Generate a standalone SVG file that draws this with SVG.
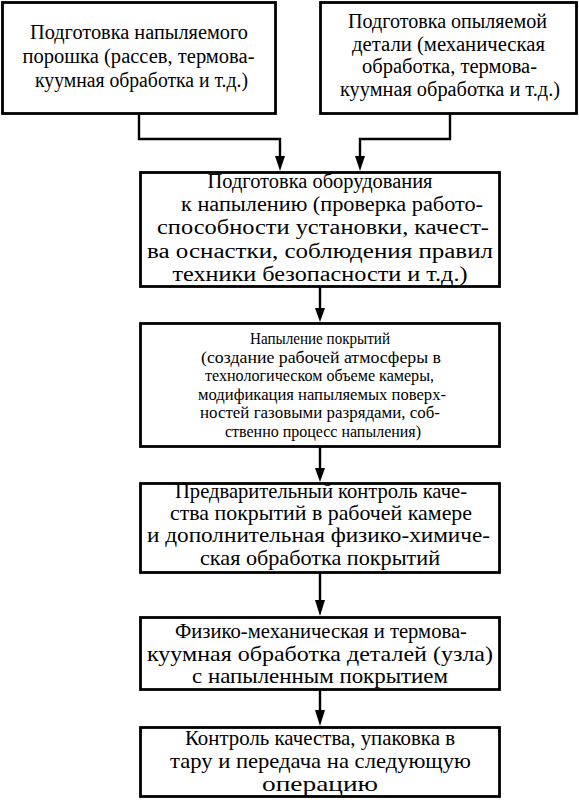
<svg xmlns="http://www.w3.org/2000/svg" width="579" height="804" viewBox="0 0 579 804">
<style>
.box{fill:#fff;stroke:#000;stroke-width:2.8}
text{font-family:"Liberation Serif","Times New Roman",serif;fill:#000;text-anchor:middle}
.t{font-size:20px}
.b{font-size:21px}
.s{font-size:16px}
.c{fill:none;stroke:#000;stroke-width:2.4}
</style>
<g id="connectors">
<path class="c" d="M139,114 V139 H280 V158"/>
<path d="M275,156 L285,156 L280,171 Z"/>
<path class="c" d="M450,114 V139 H360 V158"/>
<path d="M355,156 L365,156 L360,171 Z"/>
<path class="c" d="M320,287 V310"/>
<path d="M315,308 L325,308 L320,322 Z"/>
<path class="c" d="M320,447 V470"/>
<path d="M315,468 L325,468 L320,482 Z"/>
<path class="c" d="M320,573 V602"/>
<path d="M315,600 L325,600 L320,616 Z"/>
<path class="c" d="M320,690 V712"/>
<path d="M315,710 L325,710 L320,726 Z"/>
</g>
<g id="n1">
<rect class="box" x="2.5" y="2.5" width="273" height="111"/>
<text class="t" x="139" y="39" textLength="218" lengthAdjust="spacingAndGlyphs">Подготовка напыляемого</text>
<text class="t" x="138.5" y="63" textLength="232" lengthAdjust="spacingAndGlyphs">порошка (рассев, термова-</text>
<text class="t" x="141.5" y="87" textLength="213" lengthAdjust="spacingAndGlyphs">куумная обработка и т.д.)</text>
</g>
<g id="n2">
<rect class="box" x="320.5" y="2.5" width="256" height="111"/>
<text class="t" x="447.5" y="28" textLength="199" lengthAdjust="spacingAndGlyphs">Подготовка опыляемой</text>
<text class="t" x="448.5" y="51" textLength="193" lengthAdjust="spacingAndGlyphs">детали (механическая</text>
<text class="t" x="449.5" y="73" textLength="175" lengthAdjust="spacingAndGlyphs">обработка, термова-</text>
<text class="t" x="450" y="96" textLength="220" lengthAdjust="spacingAndGlyphs">куумная обработка и т.д.)</text>
</g>
<g id="n3">
<rect class="box" x="140.5" y="172.5" width="359" height="114"/>
<text class="t" x="320" y="188" textLength="225" lengthAdjust="spacingAndGlyphs">Подготовка оборудования</text>
<text class="t" x="332" y="211" textLength="302" lengthAdjust="spacingAndGlyphs">к напылению (проверка работо-</text>
<text class="t" x="323" y="234" textLength="332" lengthAdjust="spacingAndGlyphs">способности установки, качест-</text>
<text class="t" x="320" y="258" textLength="346" lengthAdjust="spacingAndGlyphs">ва оснастки, соблюдения правил</text>
<text class="t" x="320" y="281" textLength="295" lengthAdjust="spacingAndGlyphs">техники безопасности и т.д.)</text>
</g>
<g id="n4">
<rect class="box" x="140.5" y="323.5" width="359" height="123"/>
<text class="s" x="320" y="344" textLength="140" lengthAdjust="spacingAndGlyphs">Напыление покрытий</text>
<text class="s" x="321" y="363" textLength="240" lengthAdjust="spacingAndGlyphs">(создание рабочей атмосферы в</text>
<text class="s" x="319.5" y="381" textLength="229" lengthAdjust="spacingAndGlyphs">технологическом объеме камеры,</text>
<text class="s" x="322" y="400" textLength="248" lengthAdjust="spacingAndGlyphs">модификация напыляемых поверх-</text>
<text class="s" x="320" y="418" textLength="240" lengthAdjust="spacingAndGlyphs">ностей газовыми разрядами, соб-</text>
<text class="s" x="323" y="437" textLength="196" lengthAdjust="spacingAndGlyphs">ственно процесс напыления)</text>
</g>
<g id="n5">
<rect class="box" x="140.5" y="483.5" width="359" height="89"/>
<text class="b" x="321" y="498" textLength="292" lengthAdjust="spacingAndGlyphs">Предварительный контроль каче-</text>
<text class="b" x="321" y="520" textLength="302" lengthAdjust="spacingAndGlyphs">ства покрытий в рабочей камере</text>
<text class="b" x="318.5" y="542" textLength="343" lengthAdjust="spacingAndGlyphs">и дополнительная физико-химиче-</text>
<text class="b" x="320" y="565" textLength="240" lengthAdjust="spacingAndGlyphs">ская обработка покрытий</text>
</g>
<g id="n6">
<rect class="box" x="140.5" y="617.5" width="359" height="72"/>
<text class="b" x="321" y="638" textLength="292" lengthAdjust="spacingAndGlyphs">Физико-механическая и термова-</text>
<text class="b" x="320" y="661" textLength="346" lengthAdjust="spacingAndGlyphs">куумная обработка деталей (узла)</text>
<text class="b" x="320" y="683" textLength="256" lengthAdjust="spacingAndGlyphs">с напыленным покрытием</text>
</g>
<g id="n7">
<rect class="box" x="140.5" y="727.5" width="359" height="69"/>
<text class="b" x="320" y="745" textLength="270" lengthAdjust="spacingAndGlyphs">Контроль качества, упаковка в</text>
<text class="b" x="320.5" y="768" textLength="301" lengthAdjust="spacingAndGlyphs">тару и передача на следующую</text>
<text class="b" x="320" y="791" textLength="116" lengthAdjust="spacingAndGlyphs">операцию</text>
</g>
</svg>
